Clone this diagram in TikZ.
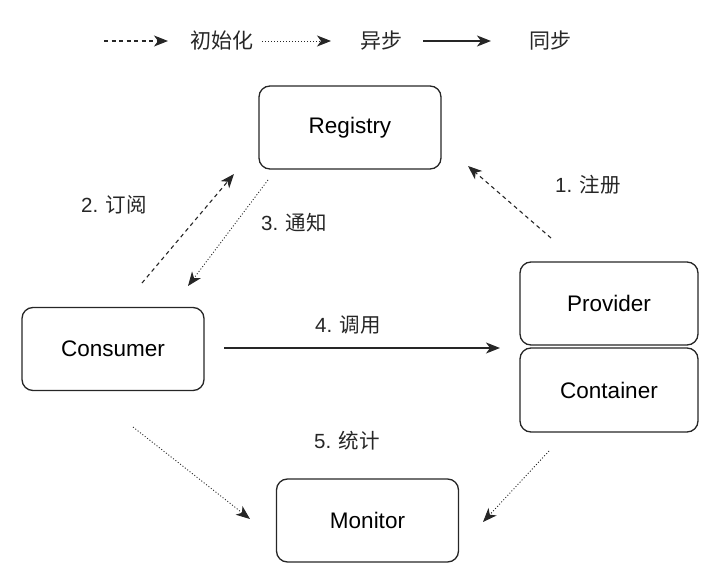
\documentclass[tikz,border=0pt]{standalone}
\usepackage{fontspec}
\setmainfont{Liberation Sans}
\newfontfamily\cjk{Noto Sans CJK SC}
\usetikzlibrary{arrows.meta}
\begin{document}
\begin{tikzpicture}[x=1pt,y=-1pt,
  box/.style={draw=black!85, line width=1.3pt, rounded corners=11pt, minimum width=182pt, minimum height=83pt, inner sep=0pt, font=\fontsize{22.5}{26}\selectfont},
  lbl/.style={font=\fontsize{20.5}{24}\selectfont, text=black!85, inner sep=1pt},
  con/.style={-{Stealth[length=14pt,width=11pt,inset=4pt]}, black!85},
  initline/.style={con, dashed, dash pattern=on 4pt off 3.5pt, line width=1.1pt},
  asyncline/.style={con, dotted, dash pattern=on 1pt off 2pt, line width=0.9pt},
  syncline/.style={con, line width=1.5pt}]
\useasboundingbox (0,0) rectangle (724,578);
% legend
\coordinate (l1a) at (104,41); \coordinate (l1b) at (168,41);
\draw[initline] (l1a) -- (l1b);
\node[lbl, font=\fontsize{21}{24}\selectfont] (t1) at (222,41) {\cjk 初始化};
\coordinate (l2a) at (262,41); \coordinate (l2b) at (331,41);
\draw[asyncline] (l2a) -- (l2b);
\node[lbl, font=\fontsize{21}{24}\selectfont] (t2) at (381,41) {\cjk 异步};
\coordinate (l3a) at (423,41); \coordinate (l3b) at (491,41);
\draw[syncline] (l3a) -- (l3b);
\node[lbl, font=\fontsize{21}{24}\selectfont] (t3) at (550,41) {\cjk 同步};
% boxes
\node[box] (reg) at (350,127.5) {Registry};
\node[box] (cons) at (113,349) {Consumer};
\node[box, minimum width=178pt] (prov) at (609,303.5) {Provider};
\node[box, minimum width=178pt, minimum height=84pt] (cont) at (609,390) {Container};
\node[box] (mon) at (367.5,520.5) {Monitor};
% free ends
\coordinate (a2s) at (142,283); \coordinate (a2e) at (234,174);
\coordinate (a3s) at (268,180); \coordinate (a3e) at (188,286);
\coordinate (a1s) at (551,238); \coordinate (a1e) at (468,166);
\coordinate (a4s) at (224,348); \coordinate (a4e) at (500,348);
\coordinate (a5s) at (133,427); \coordinate (a5e) at (250,519);
\coordinate (a6s) at (549,451); \coordinate (a6e) at (483,522);
\draw[initline] (a2s) -- (a2e);
\draw[asyncline] (a3s) -- (a3e);
\draw[initline] (a1s) -- (a1e);
\draw[syncline] (a4s) -- (a4e);
\draw[asyncline] (a5s) -- (a5e);
\draw[asyncline] (a6s) -- (a6e);
% labels
\node[lbl] (n2) at (114,205) {2. {\cjk 订阅}};
\node[lbl] (n3) at (294,223) {3. {\cjk 通知}};
\node[lbl] (n1) at (588,185) {1. {\cjk 注册}};
\node[lbl] (n4) at (348,325) {4. {\cjk 调用}};
\node[lbl] (n5) at (347,441) {5. {\cjk 统计}};
\end{tikzpicture}
\end{document}
